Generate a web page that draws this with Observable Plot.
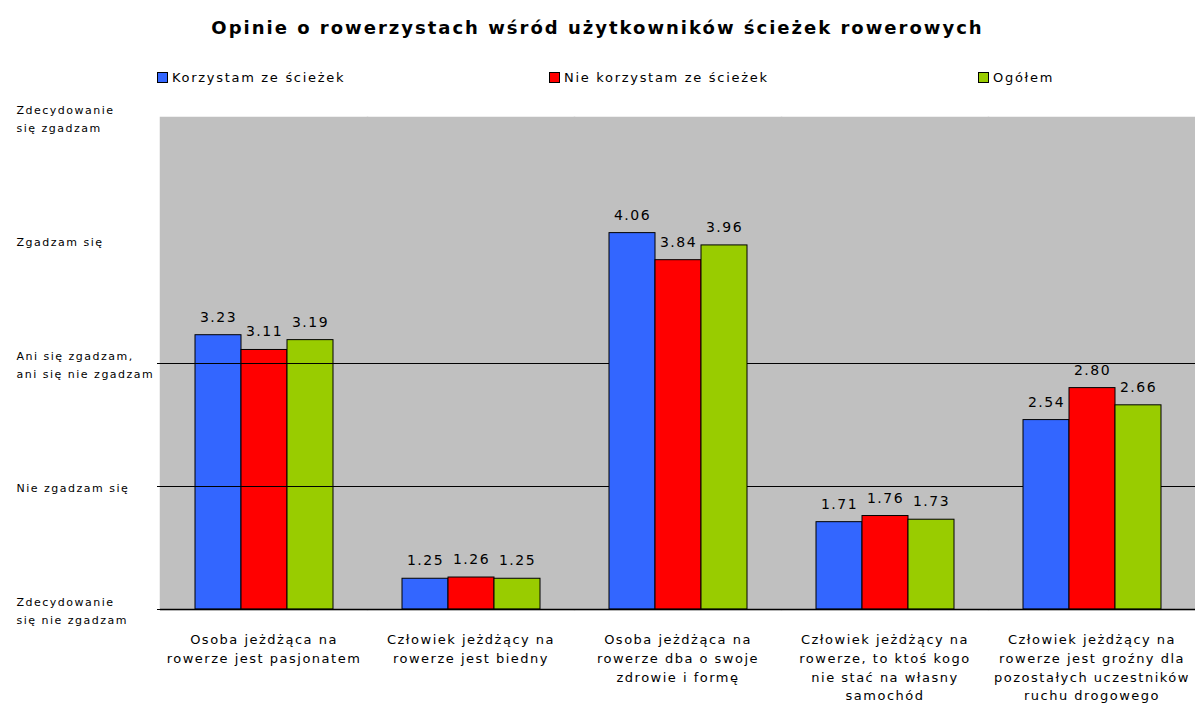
<!DOCTYPE html>
<html>
<head>
<meta charset="utf-8">
<script src="https://cdn.jsdelivr.net/npm/d3@7"></script>
<script src="https://cdn.jsdelivr.net/npm/@observablehq/plot@0.6"></script>
<style>
  body { margin: 0; background: #fff; font-family: "DejaVu Sans", sans-serif; }
  #title { height: 50px; line-height: 56px; text-align: center; font-weight: bold; font-size: 18px; letter-spacing: 2px; color: #000; }
  #legend { position: relative; height: 44px; font-size: 13px; letter-spacing: 1.7px; }
  .item { position: absolute; top: 20px; display: flex; align-items: center; }
  .sw { width: 9px; height: 9px; border: 1px solid #000; margin-right: 4px; }
  svg text { letter-spacing: 1.5px; }
</style>
</head>
<body>
<div id="title"></div>
<div id="legend"></div>
<div id="chart"></div>
<script>
const title = "Opinie o rowerzystach wśród użytkowników ścieżek rowerowych";
const series = ["Korzystam ze ścieżek", "Nie korzystam ze ścieżek", "Ogółem"];
const colors = ["#3366ff", "#ff0000", "#99cc00"];
const categories = [
  "Osoba jeżdżąca na rowerze jest pasjonatem",
  "Człowiek jeżdżący na rowerze jest biedny",
  "Osoba jeżdżąca na rowerze dba o swoje zdrowie i formę",
  "Człowiek jeżdżący na rowerze, to ktoś kogo nie stać na samochód",
  "Człowiek jeżdżący na rowerze jest groźny dla pozostałych uczestników ruchu drogowego"
];
const categoryLabels = [
  "Osoba jeżdżąca na\nrowerze jest pasjonatem",
  "Człowiek jeżdżący na\nrowerze jest biedny",
  "Osoba jeżdżąca na\nrowerze dba o swoje\nzdrowie i formę",
  "Człowiek jeżdżący na\nrowerze, to ktoś kogo\nnie stać na własny\nsamochód",
  "Człowiek jeżdżący na\nrowerze jest groźny dla\npozostałych uczestników\nruchu drogowego"
];
const korzystam = [3.23, 1.25, 4.06, 1.71, 2.54];
const nieKorzystam = [3.11, 1.26, 3.84, 1.76, 2.80];
const ogolem = [3.19, 1.25, 3.96, 1.73, 2.66];
const yTicks = [1, 2, 3, 4, 5];
const yTickLabels = [
  "Zdecydowanie\nsię nie zgadzam",
  "Nie zgadzam się",
  "Ani się zgadzam,\nani się nie zgadzam",
  "Zgadzam się",
  "Zdecydowanie\nsię zgadzam"
];
const gridValues = [2, 3];

const valuesBySeries = [korzystam, nieKorzystam, ogolem];
const data = [];
categories.forEach((c, i) => series.forEach((s, j) => data.push({category: c, series: s, value: valuesBySeries[j][i]})));
const yLabelData = yTicks.map((v, i) => ({v, label: yTickLabels[i]}));

document.getElementById("title").textContent = title;
const legend = document.getElementById("legend");
const legendX = [157, 549, 978];
series.forEach((s, i) => {
  const it = document.createElement("div");
  it.className = "item";
  it.style.left = legendX[i] + "px";
  it.innerHTML = `<span class="sw" style="background:${colors[i]}"></span><span>${s}</span>`;
  legend.appendChild(it);
});

const chart = Plot.plot({
  width: 1195,
  height: 630,
  marginTop: 23,
  marginBottom: 115,
  marginLeft: 159,
  marginRight: 0,
  style: {fontFamily: "DejaVu Sans, sans-serif", fontSize: "12px", color: "#000"},
  fx: {domain: categories, padding: 0, label: null},
  x: {domain: series, paddingInner: 0, paddingOuter: 0.75, axis: null},
  y: {domain: [1, 5], axis: null},
  color: {domain: series, range: colors},
  marks: [
    Plot.frame({fill: "#c0c0c0", stroke: "#c0c0c0", strokeWidth: 1.5}),
    Plot.ruleY(gridValues, {stroke: "#000", strokeWidth: 1}),
    Plot.barY(data, {fx: "category", x: "series", y1: () => 1, y2: "value", fill: "series", stroke: "#000", strokeWidth: 1}),
    Plot.text(data, {fx: "category", x: "series", y: "value", text: d => d.value.toFixed(2), dy: -18, fontSize: 14, fill: "#000"}),
    Plot.ruleY([1], {stroke: "#000", strokeWidth: 1.5}),
    Plot.tickY([1, 2, 3], {y: d => d, stroke: "#000", facetAnchor: "left", dx: -3, strokeWidth: 1, clip: false}),
    Plot.text(yLabelData, {y: "v", text: "label", frameAnchor: "left", textAnchor: "start", dx: -144, fontSize: 11, lineHeight: 1.6, facetAnchor: "left", fill: "#000", style: "letter-spacing:1.3px"}),
    Plot.axisFx({anchor: "bottom", tickSize: 0, tickPadding: 21, lineAnchor: "top", lineHeight: 1.45, fontSize: 13, tickFormat: c => categoryLabels[categories.indexOf(c)], label: null})
  ]
});
document.getElementById("chart").appendChild(chart);
</script>
</body>
</html>
